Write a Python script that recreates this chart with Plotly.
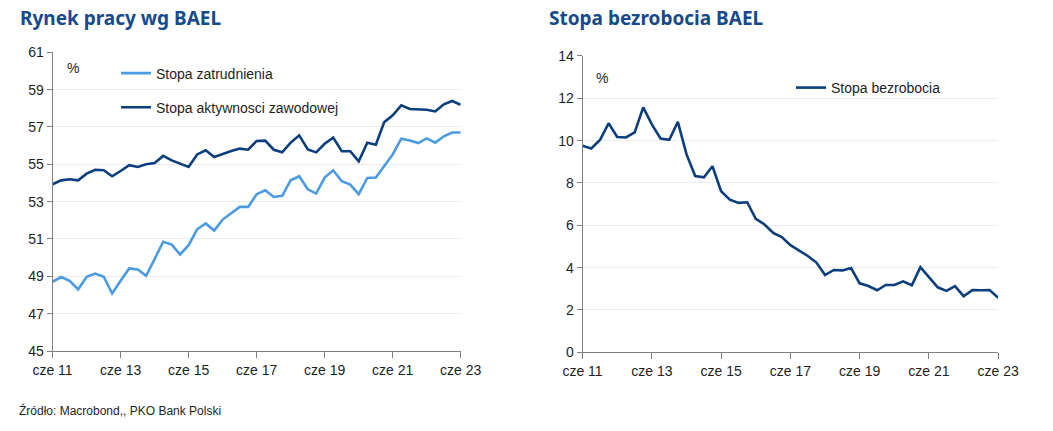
import plotly.graph_objects as go
import pandas as pd

# ---- data (quarterly, cze 2011 - cze 2023) ----
quarters = pd.date_range(start="2011-06-30", periods=49, freq="QE")

stopa_zatrudnienia = [
    48.71, 48.96, 48.76, 48.30, 48.98, 49.15, 48.98, 48.08, 48.76, 49.42,
    49.37, 49.03, 49.92, 50.85, 50.70, 50.17, 50.67, 51.52, 51.83, 51.45,
    52.04, 52.36, 52.72, 52.72, 53.40, 53.61, 53.25, 53.31, 54.14, 54.36,
    53.66, 53.43, 54.29, 54.68, 54.09, 53.91, 53.40, 54.27, 54.29, 54.91,
    55.53, 56.37, 56.28, 56.14, 56.39, 56.16, 56.50, 56.70, 56.70,
]

stopa_aktywnosci = [
    53.93, 54.14, 54.20, 54.14, 54.50, 54.71, 54.68, 54.36, 54.64, 54.95,
    54.86, 55.00, 55.07, 55.45, 55.21, 55.03, 54.86, 55.53, 55.75, 55.39,
    55.57, 55.71, 55.84, 55.78, 56.25, 56.27, 55.78, 55.64, 56.16, 56.55,
    55.80, 55.64, 56.10, 56.43, 55.70, 55.70, 55.16, 56.16, 56.05, 57.26,
    57.62, 58.16, 57.96, 57.96, 57.92, 57.83, 58.21, 58.39, 58.19,
]

stopa_bezrobocia = [
    9.76, 9.63, 10.03, 10.82, 10.17, 10.15, 10.39, 11.57, 10.77, 10.10,
    10.04, 10.89, 9.36, 8.33, 8.27, 8.79, 7.61, 7.21, 7.06, 7.09,
    6.31, 6.04, 5.64, 5.44, 5.06, 4.79, 4.55, 4.24, 3.65, 3.89,
    3.87, 3.98, 3.26, 3.13, 2.93, 3.18, 3.18, 3.35, 3.17, 4.02,
    3.53, 3.07, 2.90, 3.13, 2.65, 2.94, 2.93, 2.94, 2.58,
]

tick_dates = quarters[::8]
tick_labels = ["cze 11", "cze 13", "cze 15", "cze 17", "cze 19", "cze 21", "cze 23"]

left_ticks = [45, 47, 49, 51, 53, 55, 57, 59, 61]
right_ticks = [0, 2, 4, 6, 8, 10, 12, 14]

LIGHT = "#4a9be3"
DARK = "#0b3e7e"
TITLE = "#164a8c"
AXIS = "#7f7f7f"
GRID = "#ececec"
TXT = "#1e1e1e"
TICKFONT = dict(family="Liberation Sans", size=14, color=TXT)

fig = go.Figure()

fig.add_trace(go.Scatter(x=quarters, y=stopa_zatrudnienia, name="Stopa zatrudnienia",
                         mode="lines", line=dict(color=LIGHT, width=2.6),
                         xaxis="x", yaxis="y", legend="legend", legendgroup="a"))
fig.add_trace(go.Scatter(x=quarters, y=stopa_aktywnosci, name="Stopa aktywnosci zawodowej",
                         mode="lines", line=dict(color=DARK, width=2.6),
                         xaxis="x", yaxis="y", legend="legend", legendgroup="b"))
fig.add_trace(go.Scatter(x=quarters, y=stopa_bezrobocia, name="Stopa bezrobocia",
                         mode="lines", line=dict(color=DARK, width=2.6),
                         xaxis="x2", yaxis="y2", legend="legend2"))

xcommon = dict(type="date", range=[quarters[0], quarters[-1]],
               tickvals=list(tick_dates), ticktext=tick_labels,
               showline=True, linecolor=AXIS, linewidth=1,
               ticks="outside", ticklen=6, tickcolor=AXIS,
               showgrid=False, zeroline=False, tickfont=TICKFONT,
               automargin=False)
ycommon = dict(showline=True, linecolor=AXIS, linewidth=1,
               ticks="outside", ticklen=5, tickcolor=AXIS,
               showgrid=True, gridcolor=GRID, gridwidth=1,
               zeroline=False, tickfont=TICKFONT, automargin=False)

fig.update_layout(
    template="none",
    width=1053, height=431,
    margin=dict(l=0, r=0, t=0, b=0, autoexpand=False),
    paper_bgcolor="white", plot_bgcolor="white",
    showlegend=True,
    xaxis=dict(domain=[0.0499, 0.4375], anchor="y", **xcommon),
    yaxis=dict(domain=[0.1856, 0.8787], anchor="x", range=[45, 61],
               tickvals=left_ticks, **ycommon),
    xaxis2=dict(domain=[0.5532, 0.9480], anchor="y2", **xcommon),
    yaxis2=dict(domain=[0.1826, 0.8701], anchor="x2", range=[0, 14],
                tickvals=right_ticks, **ycommon),
    legend=dict(x=116 / 1053, y=1 - 57.5 / 431, xanchor="left", yanchor="top",
                bgcolor="rgba(0,0,0,0)", tracegroupgap=13,
                font=dict(family="Liberation Sans", size=14, color=TXT)),
    legend2=dict(x=791 / 1053, y=1 - 72 / 431, xanchor="left", yanchor="top",
                 bgcolor="rgba(0,0,0,0)",
                 font=dict(family="Liberation Sans", size=14, color=TXT)),
    annotations=[
        dict(text="<b>Rynek pracy wg BAEL</b>", x=18 / 1053, y=1 - 3 / 431,
             xref="paper", yref="paper", xanchor="left", yanchor="top",
             showarrow=False, font=dict(family="Noto Sans", size=19, color=TITLE)),
        dict(text="<b>Stopa bezrobocia BAEL</b>", x=547 / 1053, y=1 - 3 / 431,
             xref="paper", yref="paper", xanchor="left", yanchor="top",
             showarrow=False, font=dict(family="Noto Sans", size=19, color=TITLE)),
        dict(text="%", x=65 / 1053, y=1 - 58 / 431, xref="paper", yref="paper",
             xanchor="left", yanchor="top", showarrow=False,
             font=dict(family="Liberation Sans", size=14, color=TXT)),
        dict(text="%", x=594 / 1053, y=1 - 68 / 431, xref="paper", yref="paper",
             xanchor="left", yanchor="top", showarrow=False,
             font=dict(family="Liberation Sans", size=14, color=TXT)),
        dict(text="Źródło: Macrobond,, PKO Bank Polski", x=17 / 1053, y=1 - 401 / 431,
             xref="paper", yref="paper", xanchor="left", yanchor="top",
             showarrow=False, font=dict(family="Liberation Sans", size=12, color=TXT)),
    ],
)

fig.write_html("out.html",
               config={"displayModeBar": False},
               post_script="document.body.style.margin='0px';document.body.style.overflow='hidden';")
